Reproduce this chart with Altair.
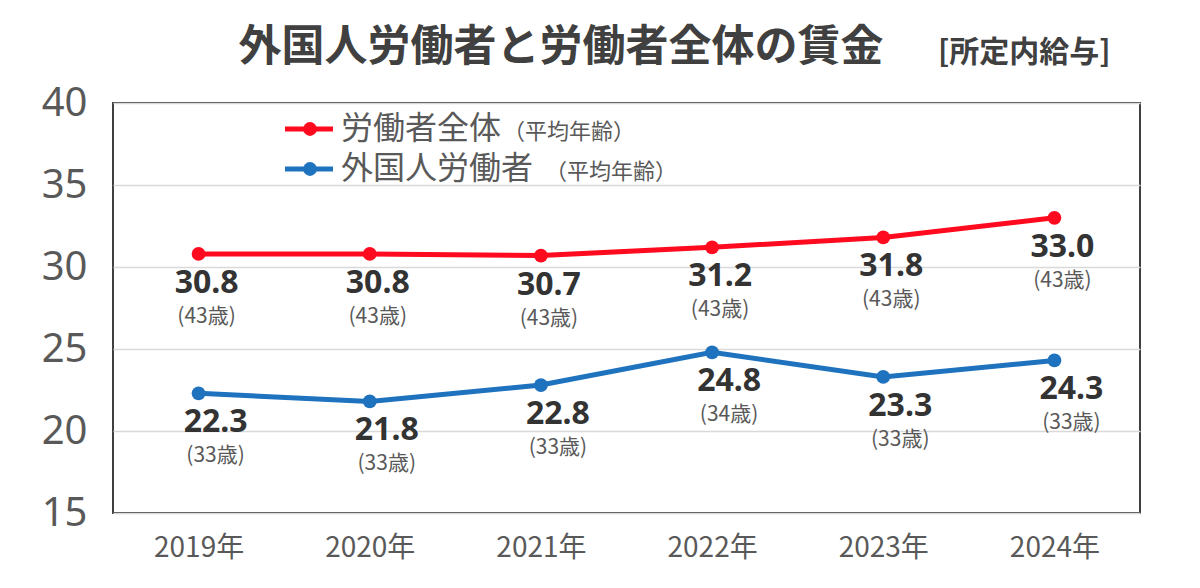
import altair as alt
import pandas as pd

years = ["2019年", "2020年", "2021年", "2022年", "2023年", "2024年"]
series_names = ["労働者全体", "外国人労働者"]
all_wages = [30.8, 30.8, 30.7, 31.2, 31.8, 33.0]
all_ages = [43, 43, 43, 43, 43, 43]
foreign_wages = [22.3, 21.8, 22.8, 24.8, 23.3, 24.3]
foreign_ages = [33, 33, 33, 34, 33, 33]
y_ticks = [15, 20, 25, 30, 35, 40]
colors = ["#FF0A1E", "#1E72BE"]

rows = []
for y, w, a in zip(years, all_wages, all_ages):
    rows.append({"year": y, "series": series_names[0], "wage": w, "age": f"({a}歳)"})
for y, w, a in zip(years, foreign_wages, foreign_ages):
    rows.append({"year": y, "series": series_names[1], "wage": w, "age": f"({a}歳)"})
df = pd.DataFrame(rows)

JP = "Noto Sans CJK JP"

x_enc = alt.X("year:N", sort=years, scale=alt.Scale(type="point", padding=0.5),
              axis=alt.Axis(title=None, labelAngle=0, labelFontSize=28, labelFont=JP,
                            labelColor="#595959", labelPadding=21, ticks=False, domain=False,
                            grid=False))
y_enc = alt.Y("wage:Q", scale=alt.Scale(domain=[15, 40], nice=False, zero=False),
              axis=alt.Axis(title=None, values=y_ticks, labelFontSize=40, labelFont="Noto Sans",
                            labelColor="#595959", labelPadding=26, ticks=False, domain=False,
                            grid=True, gridColor="#D9D9D9", gridWidth=1.5))
color_enc = alt.Color("series:N", scale=alt.Scale(domain=series_names, range=colors), legend=None)

base = alt.Chart(df)

lines = base.mark_line(strokeWidth=5).encode(x=x_enc, y=y_enc, color=color_enc, detail="series:N")
points = base.mark_circle(size=190, opacity=1).encode(x=x_enc, y=y_enc, color=color_enc)

text_layers = []
for name, dx in zip(series_names, [8, 17]):
    sub = base.transform_filter(alt.datum.series == name)
    text_layers.append(sub.mark_text(dy=29, dx=dx, font="Noto Sans", fontSize=32, fontWeight="bold",
                                     color="#333333").encode(
        x=x_enc, y=y_enc, text=alt.Text("wage:Q", format=".1f")))
    text_layers.append(sub.mark_text(dy=63, dx=dx, font=JP, fontSize=21, color="#595959").encode(
        x=x_enc, y=y_enc, text="age:N"))

one = pd.DataFrame({"k": [0]})

def legend_row(name, color, ypx, small_x):
    r = alt.Chart(one).mark_rule(strokeWidth=5, color=color).encode(
        x=alt.value(172), x2=alt.value(220), y=alt.value(ypx))
    p = alt.Chart(one).mark_circle(size=190, opacity=1, color=color).encode(
        x=alt.value(197), y=alt.value(ypx))
    t = alt.Chart(one).mark_text(align="left", baseline="middle", font=JP, fontSize=32,
                                 color="#595959", text=name).encode(
        x=alt.value(228), y=alt.value(ypx))
    s = alt.Chart(one).mark_text(align="left", baseline="middle", font=JP, fontSize=22,
                                 color="#595959", text="（平均年齢）").encode(
        x=alt.value(small_x), y=alt.value(ypx + 3))
    return [r, p, t, s]

legend_layers = legend_row(series_names[0], colors[0], 26, 390) + \
    legend_row(series_names[1], colors[1], 66, 432)

title = alt.Chart(one).mark_text(align="center", baseline="middle", font=JP, fontSize=43,
                                 fontWeight="bold", color="#404040",
                                 text="外国人労働者と労働者全体の賃金").encode(
    x=alt.value(448), y=alt.value(-55))
subtitle = alt.Chart(one).mark_text(align="left", baseline="middle", font=JP, fontSize=30,
                                    fontWeight="bold", color="#404040",
                                    text="[所定内給与]").encode(
    x=alt.value(825), y=alt.value(-50))

chart = alt.layer(lines, points, *text_layers, *legend_layers, title, subtitle).properties(
    width=1027, height=410,
    background="white",
    padding={"left": 113, "top": 103, "right": 60, "bottom": 75},
    autosize=alt.AutoSizeParams(type="none"),
).configure_view(stroke="#404040", strokeWidth=2)

chart.save("out.html", embed_options={"renderer": "svg", "actions": False})
